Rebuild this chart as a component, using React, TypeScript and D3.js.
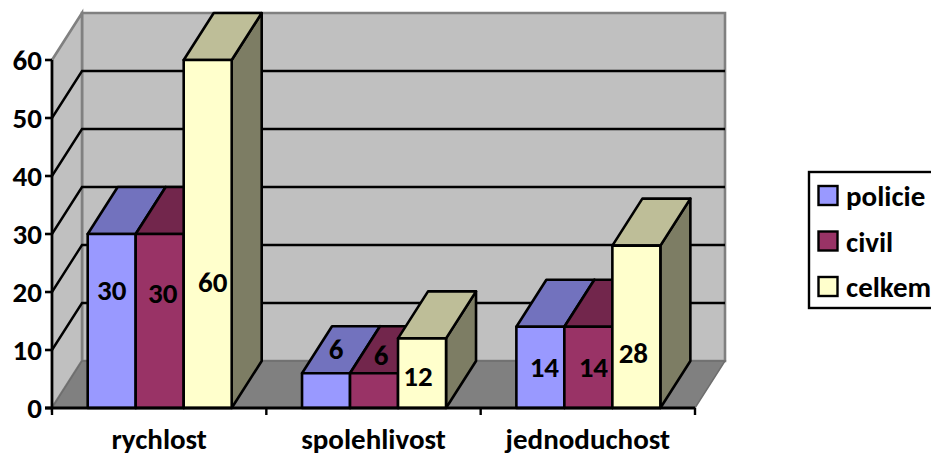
import React from "react";
import * as d3 from "d3";

const categories = ["rychlost", "spolehlivost", "jednoduchost"];
const seriesNames = ["policie", "civil", "celkem"];
const policie = [30, 6, 14];
const civil = [30, 6, 14];
const celkem = [60, 12, 28];
const yTicks = [0, 10, 20, 30, 40, 50, 60];

const seriesValues = [policie, civil, celkem];
const frontColors = ["#9999FF", "#993366", "#FFFFCC"];
const FONT = "Carlito, Lato, 'Open Sans', sans-serif";
const FS = 29;

// label offsets from the centre of each front face [series][category]
const labelNudge = [
  [[0, -31], [10, -42], [4, 0]],
  [[3, -28], [7, -36], [5, 0]],
  [[5, 48], [-4, 3], [-3, 26]],
];

const W = 931, H = 457;
const DX = 30, DY = -47;
const x0 = 52, x1 = 695, yBase = 408, yTop = 60;

const y = d3.scaleLinear().domain([0, 60]).range([yBase, yTop]);
const xCat = d3.scaleBand<string>().domain(categories).range([x0, x1]);
const xSer = d3.scaleBand<string>().domain(seriesNames).range([35.7, 179.7]);

const pts = (p: number[][]) => p.map((a) => a.join(",")).join(" ");

function Bar({ cat, s, value }: { cat: string; s: number; value: number }) {
  const l = xCat(cat)! + xSer(seriesNames[s])!;
  const w = xSer.bandwidth();
  const r = l + w;
  const t = y(value);
  const c = d3.color(frontColors[s])!;
  const top = d3.rgb(c).darker(0.83).formatHex();
  const side = d3.rgb(c).darker(2).formatHex();
  const stroke = { stroke: "#000", strokeWidth: 2.6, strokeLinejoin: "round" as const };
  return (
    <g>
      <polygon points={pts([[r, t], [r + DX, t + DY], [r + DX, yBase + DY], [r, yBase]])} fill={side} {...stroke} />
      <polygon points={pts([[l, t], [l + DX, t + DY], [r + DX, t + DY], [r, t]])} fill={top} {...stroke} />
      <rect x={l} y={t} width={w} height={yBase - t} fill={frontColors[s]} {...stroke} />
    </g>
  );
}

export default function App() {
  const yBack = yBase + DY, yBackTop = yTop + DY;
  return (
    <svg width={W} height={H} style={{ position: "absolute", left: 0, top: 0, display: "block", background: "#fff" }} fontFamily={FONT} fontWeight={700} fill="#000">
      {/* walls */}
      <polygon points={pts([[x0 + DX, yBackTop], [x1 + DX, yBackTop], [x1 + DX, yBack], [x0 + DX, yBack]])} fill="#C0C0C0" stroke="#808080" strokeWidth={2.6} />
      <polygon points={pts([[x0, yTop], [x0 + DX, yBackTop], [x0 + DX, yBack], [x0, yBase]])} fill="#C0C0C0" stroke="#808080" strokeWidth={2.6} />
      <polygon points={pts([[x0, yBase], [x0 + DX, yBack], [x1 + DX, yBack], [x1, yBase]])} fill="#808080" stroke="#6e6e6e" strokeWidth={1.5} />

      {/* gridlines */}
      {yTicks.filter((v) => v > 0 && v < 60).map((v) => (
        <polyline key={v} points={pts([[x0, y(v)], [x0 + DX, y(v) + DY], [x1 + DX, y(v) + DY]])} fill="none" stroke="#000" strokeWidth={2.4} />
      ))}

      {/* axes */}
      <line x1={x0} x2={x0} y1={yTop} y2={yBase} stroke="#000" strokeWidth={2.6} />
      {yTicks.map((v) => (
        <g key={v}>
          <line x1={x0 - 7} x2={x0} y1={y(v)} y2={y(v)} stroke="#000" strokeWidth={2.6} />
          <text x={x0 - 10} y={y(v)} textAnchor="end" dominantBaseline="central" fontSize={FS}>{v}</text>
        </g>
      ))}

      {/* bars */}
      {categories.map((cat, ci) =>
        seriesNames.map((n, s) => <Bar key={cat + n} cat={cat} s={s} value={seriesValues[s][ci]} />)
      )}

      <line x1={x0 - 7} x2={x1} y1={yBase} y2={yBase} stroke="#000" strokeWidth={2.8} />
      {[...categories.map((c) => xCat(c)!), x1].map((tx) => (
        <line key={tx} x1={tx} x2={tx} y1={yBase} y2={yBase + 7} stroke="#000" strokeWidth={2.4} />
      ))}
      {categories.map((c) => (
        <text key={c} x={xCat(c)! + xCat.bandwidth() / 2} y={449} textAnchor="middle" fontSize={FS}>{c}</text>
      ))}

      {/* data labels */}
      {categories.map((cat, ci) =>
        seriesNames.map((n, s) => {
          const v = seriesValues[s][ci];
          const [nx, ny] = labelNudge[s][ci];
          const cx = xCat(cat)! + xSer(n)! + xSer.bandwidth() / 2;
          const cy = (y(v) + yBase) / 2;
          return (
            <text key={cat + n} x={cx + nx} y={cy + ny} textAnchor="middle" dominantBaseline="central" fontSize={FS}>{v}</text>
          );
        })
      )}

      {/* legend */}
      <rect x={809} y={172} width={140} height={136} fill="#fff" stroke="#000" strokeWidth={2.4} />
      {seriesNames.map((n, i) => {
        const ly = 186 + i * 45.5;
        return (
          <g key={n}>
            <rect x={818.5} y={ly} width={19} height={19} fill={frontColors[i]} stroke="#000" strokeWidth={2.4} />
            <text x={846} y={ly + 20} fontSize={FS}>{n}</text>
          </g>
        );
      })}
    </svg>
  );
}
